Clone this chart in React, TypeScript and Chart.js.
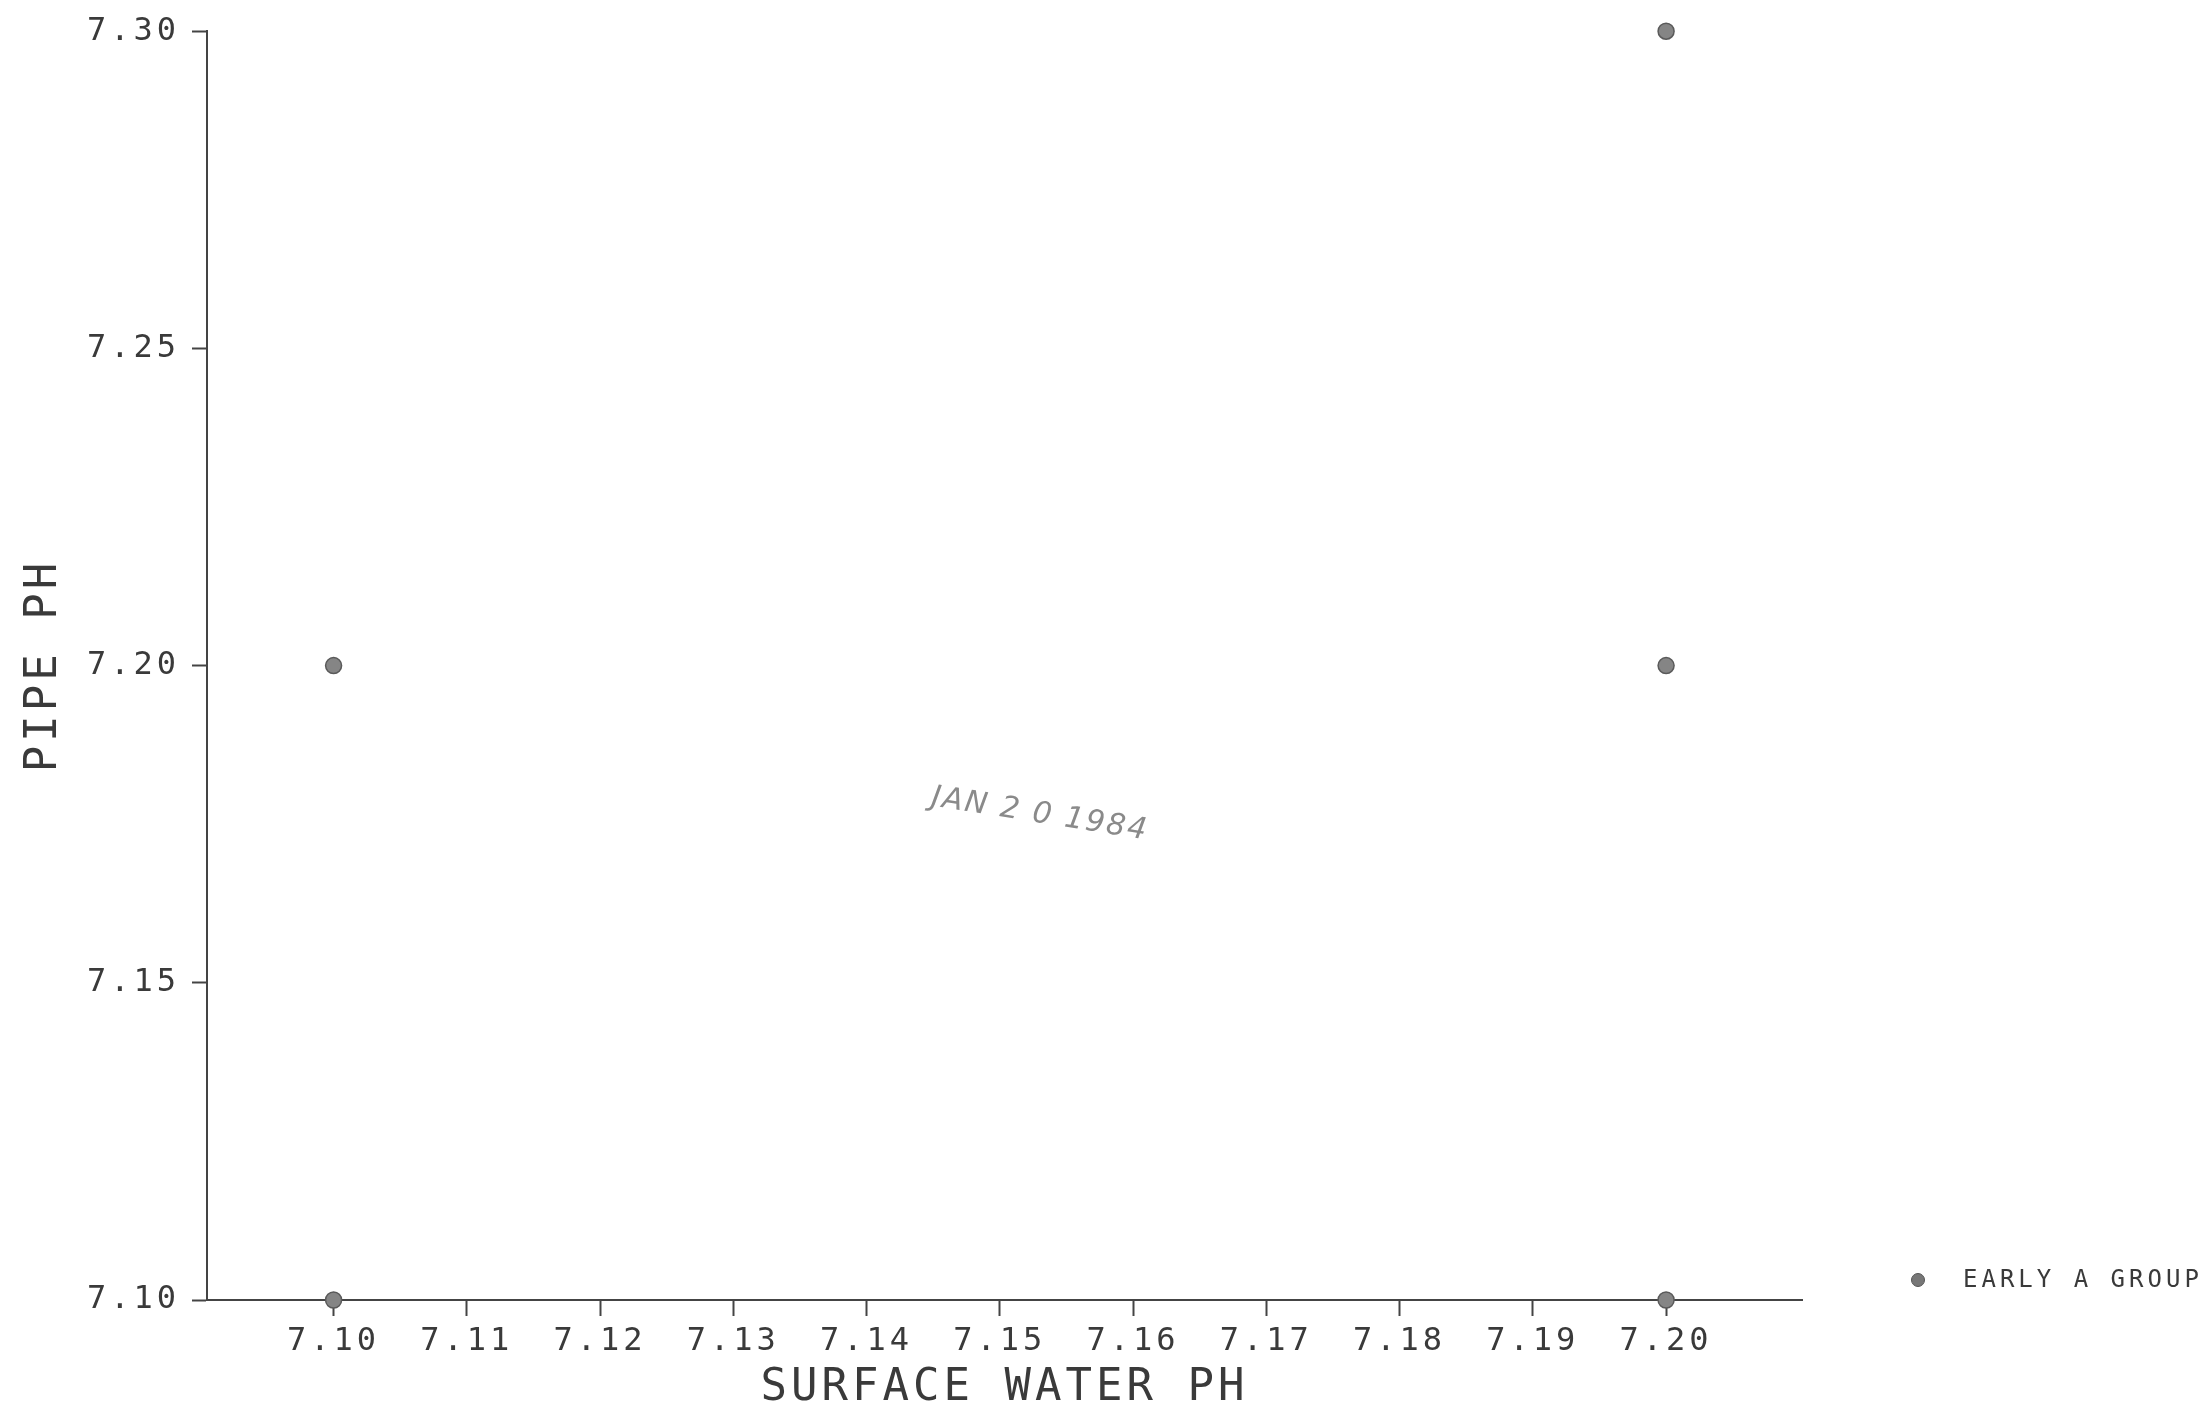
import React, { useEffect, useRef } from 'react';
import { Chart, registerables } from 'chart.js';

Chart.register(...registerables);

// ---- data ----
const xTickValues = [7.10, 7.11, 7.12, 7.13, 7.14, 7.15, 7.16, 7.17, 7.18, 7.19, 7.20];
const yTickValues = [7.10, 7.15, 7.20, 7.25, 7.30];
const surfacePH = [7.10, 7.10, 7.20, 7.20, 7.20];
const pipePH = [7.20, 7.10, 7.30, 7.20, 7.10];
const seriesName = 'EARLY A GROUP';
const xTitle = 'SURFACE WATER PH';
const yTitle = 'PIPE PH';
const xMin = 7.0905;
const xMax = 7.2102;
const yMin = 7.10;
const yMax = 7.30;
const stampText = 'JAN 2 0 1984';

const FONT = "'DejaVu Sans Mono', monospace";
const INK = '#3a3a3a';
const SPACING = '4px';

const spacingPlugin = {
  id: 'spacing',
  beforeUpdate(chart: any) { chart.ctx.letterSpacing = SPACING; },
  beforeLayout(chart: any) { chart.ctx.letterSpacing = SPACING; },
  beforeDraw(chart: any) { chart.ctx.letterSpacing = SPACING; },
};

const extrasPlugin = {
  id: 'extras',
  afterDraw(chart: any) {
    const { ctx, chartArea } = chart;
    ctx.save();
    ctx.letterSpacing = SPACING;
    // legend
    const lx = chartArea.right + 116;
    const ly = chartArea.bottom - 20;
    ctx.beginPath();
    ctx.arc(lx, ly, 6.5, 0, Math.PI * 2);
    ctx.fillStyle = '#777';
    ctx.fill();
    ctx.lineWidth = 1;
    ctx.strokeStyle = '#555';
    ctx.stroke();
    ctx.fillStyle = INK;
    ctx.font = `24px ${FONT}`;
    ctx.textAlign = 'left';
    ctx.textBaseline = 'middle';
    ctx.fillText(seriesName, lx + 45, ly + 1);
    // stamp
    const sx = chart.scales.x.getPixelForValue(7.153);
    const sy = chart.scales.y.getPixelForValue(7.1765);
    ctx.translate(sx, sy);
    ctx.rotate((9 * Math.PI) / 180);
    ctx.font = `italic 30px 'DejaVu Sans', sans-serif`;
    ctx.letterSpacing = '2px';
    ctx.fillStyle = '#8a8a8a';
    ctx.textAlign = 'center';
    ctx.fillText(stampText, 0, 0);
    ctx.restore();
  },
};

export default function App() {
  const ref = useRef<HTMLCanvasElement | null>(null);

  useEffect(() => {
    if (!ref.current) return;
    const points = surfacePH.map((x, i) => ({ x, y: pipePH[i] }));
    const chart = new Chart(ref.current, {
      type: 'scatter',
      data: {
        datasets: [
          {
            label: seriesName,
            data: points,
            backgroundColor: '#858585',
            borderColor: '#5a5a5a',
            borderWidth: 1.5,
            pointRadius: 8,
            clip: false as any,
          },
        ],
      },
      options: {
        animation: false,
        responsive: true,
        maintainAspectRatio: false,
        layout: { padding: { left: 0, right: 397, top: 25, bottom: 0 } },
        plugins: { legend: { display: false }, tooltip: { enabled: false } },
        scales: {
          x: {
            type: 'linear',
            min: xMin,
            max: xMax,
            afterBuildTicks: (s: any) => { s.ticks = xTickValues.map((v) => ({ value: v })); },
            afterFit: (s: any) => { s.height = 111; },
            ticks: {
              font: { family: FONT, size: 32 },
              color: INK,
              padding: 6,
              autoSkip: false,
              maxRotation: 0,
              callback: (v: any) => Number(v).toFixed(2),
            },
            grid: { drawOnChartArea: false, drawTicks: true, tickLength: 16, tickColor: '#444', tickWidth: 2 },
            border: { display: true, color: '#444', width: 2 },
            title: {
              display: true,
              text: xTitle,
              color: INK,
              font: { family: FONT, size: 44, lineHeight: 1 },
              padding: { top: 0, bottom: 0 },
            },
          },
          y: {
            type: 'linear',
            min: yMin,
            max: yMax,
            afterBuildTicks: (s: any) => { s.ticks = yTickValues.map((v) => ({ value: v })); },
            afterFit: (s: any) => { s.width = 207; },
            ticks: {
              font: { family: FONT, size: 32 },
              color: INK,
              padding: 12,
              autoSkip: false,
              callback: (v: any) => Number(v).toFixed(2),
            },
            grid: { drawOnChartArea: false, drawTicks: true, tickLength: 15, tickColor: '#444', tickWidth: 2 },
            border: { display: true, color: '#444', width: 2 },
            title: {
              display: true,
              text: yTitle,
              color: INK,
              font: { family: FONT, size: 44, lineHeight: 1 },
              padding: { top: 23, bottom: 0 },
            },
          },
        },
      },
      plugins: [spacingPlugin, extrasPlugin],
    });
    return () => chart.destroy();
  }, []);

  return (
    <div style={{ position: 'absolute', left: 0, top: 0, width: 2199, height: 1411, background: '#fff' }}>
      <canvas ref={ref} />
    </div>
  );
}
